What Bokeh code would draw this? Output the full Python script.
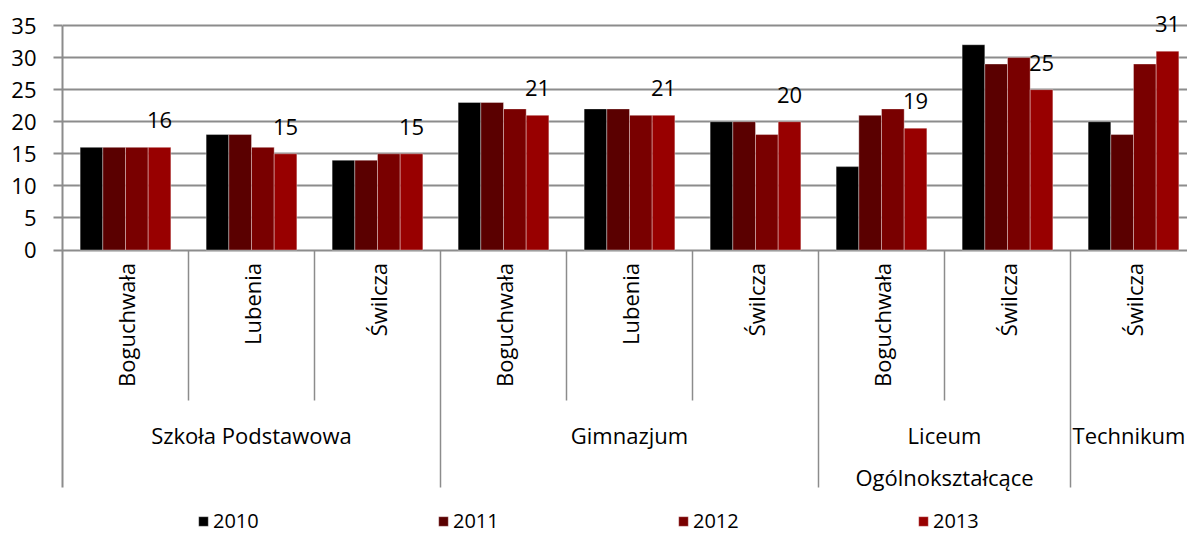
import math
from bokeh.plotting import figure
from bokeh.models import (ColumnDataSource, Range1d, FixedTicker, Legend, LegendItem)
from bokeh.transform import dodge
from bokeh.core.properties import value
from bokeh.embed import file_html
from bokeh.resources import INLINE

# ---- data ----
schools = ["Szkoła Podstawowa", "Szkoła Podstawowa", "Szkoła Podstawowa",
           "Gimnazjum", "Gimnazjum", "Gimnazjum",
           "Liceum\nOgólnokształcące", "Liceum\nOgólnokształcące",
           "Technikum"]
towns = ["Boguchwała", "Lubenia", "Świlcza",
         "Boguchwała", "Lubenia", "Świlcza",
         "Boguchwała", "Świlcza",
         "Świlcza"]
years = ["2010", "2011", "2012", "2013"]
v2010 = [16, 18, 14, 23, 22, 20, 13, 32, 20]
v2011 = [16, 18, 14, 23, 22, 20, 21, 29, 18]
v2012 = [16, 16, 15, 22, 21, 18, 22, 30, 29]
v2013 = [16, 15, 15, 21, 21, 20, 19, 25, 31]
colors = ["#000000", "#5a0000", "#790000", "#980000"]

FONT = "Open Sans"
GRID = "#8c8c8c"
FS = "22px"

n = len(towns)
xc = [i + 0.5 for i in range(n)]
src = ColumnDataSource(dict(x=xc, town=towns,
                            v2010=v2010, v2011=v2011, v2012=v2012, v2013=v2013,
                            lab=[str(v) for v in v2013]))

PX = 224.5 / 35.0  # pixels per unit
X_END = 1125 / 126
p = figure(width=1187, height=534,
           x_range=Range1d(0, X_END),
           y_range=Range1d(-(534 - 249.5) / PX, 35 + 25 / PX),
           output_backend="svg", toolbar_location=None,
           min_border=0, min_border_left=62)
p.outline_line_color = None
p.background_fill_color = "white"
p.xaxis.visible = False
p.xgrid.visible = False

ticks = list(range(0, 36, 5))
p.yaxis.ticker = FixedTicker(ticks=ticks)
p.ygrid.ticker = FixedTicker(ticks=ticks)
p.ygrid.bounds = (0, 35)
p.ygrid.grid_line_color = GRID
p.ygrid.grid_line_width = 2
p.yaxis.bounds = (-(487 - 249.5) / PX, 35)
p.yaxis.axis_line_color = GRID
p.yaxis.axis_line_width = 2
p.yaxis.major_tick_line_color = GRID
p.yaxis.major_tick_line_width = 2
p.yaxis.major_tick_out = 9
p.yaxis.major_tick_in = 0
p.yaxis.minor_tick_line_color = None
p.yaxis.major_label_text_font = FONT
p.yaxis.major_label_text_font_size = FS
p.yaxis.major_label_text_color = "#000000"
p.yaxis.major_label_standoff = 17

offsets = [-0.27, -0.09, 0.09, 0.27]
renderers = []
for j, yr in enumerate(years):
    r = p.vbar(x=dodge("x", offsets[j], range=p.x_range), top="v" + yr, bottom=0,
               width=0.18, source=src, fill_color=colors[j],
               line_color="white", line_alpha=0.35, line_width=1)
    renderers.append(r)

# value labels on the last series
p.text(x=dodge("x", offsets[3], range=p.x_range), y="v2013", text="lab", source=src,
       y_offset=-27, text_align="center", text_baseline="middle",
       text_font=value(FONT), text_font_size=FS, text_color="#000000")

# inner category labels (rotated)
p.text(x="x", y=0, text="town", source=src, angle=math.pi / 2, y_offset=13,
       text_align="right", text_baseline="middle",
       text_font=value(FONT), text_font_size=FS, text_color="#000000")

# group runs
runs = []
start = 0
for i in range(1, n + 1):
    if i == n or schools[i] != schools[start]:
        runs.append((schools[start], start, i))
        start = i

inner_x = [k for _, s, e in runs for k in range(s + 1, e)]
group_x = [e for _, s, e in runs]

p.segment(x0=inner_x, y0=[0] * len(inner_x), x1=inner_x,
          y1=[-(400 - 249.5) / PX] * len(inner_x),
          line_color=GRID, line_width=1.5)
p.segment(x0=group_x, y0=[0] * len(group_x), x1=group_x,
          y1=[-(487 - 249.5) / PX] * len(group_x),
          line_color=GRID, line_width=1.5)

# group labels centred on the visible part of each group
gsrc = ColumnDataSource(dict(x=[(s + min(e, X_END)) / 2 for _, s, e in runs],
                             name=[nm for nm, _, _ in runs]))
p.text(x="x", y=-(419 - 249.5) / PX, text="name", source=gsrc,
       text_align="center", text_baseline="top", text_line_height=1.41,
       text_font=value(FONT), text_font_size=FS, text_color="#000000")

legend = Legend(items=[LegendItem(label=yr, renderers=[renderers[j]]) for j, yr in enumerate(years)],
                orientation="horizontal", location=(135, 0), padding=0, margin=0,
                spacing=44, glyph_width=12, glyph_height=12, label_standoff=4,
                label_width=180, label_text_font=FONT, label_text_font_size="20px",
                label_text_color="#000000", border_line_color=None,
                background_fill_alpha=0)
p.add_layout(legend)

open("out.html", "w").write(file_html(p, INLINE))
